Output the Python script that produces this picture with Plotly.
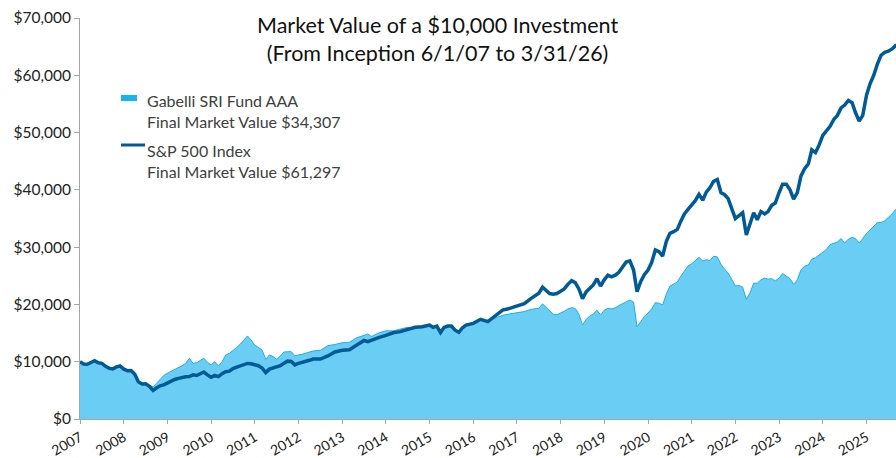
import plotly.graph_objects as go

# ---- data ----
dates = [
    "2007-06", "2007-07", "2007-08", "2007-09", "2007-10", "2007-11", "2007-12",
    "2008-01", "2008-02", "2008-03", "2008-04", "2008-05", "2008-06", "2008-07", "2008-08", "2008-09", "2008-10", "2008-11", "2008-12",
    "2009-01", "2009-02", "2009-03", "2009-04", "2009-05", "2009-06", "2009-07", "2009-08", "2009-09", "2009-10", "2009-11", "2009-12",
    "2010-01", "2010-02", "2010-03", "2010-04", "2010-05", "2010-06", "2010-07", "2010-08", "2010-09", "2010-10", "2010-11", "2010-12",
    "2011-01", "2011-02", "2011-03", "2011-04", "2011-05", "2011-06", "2011-07", "2011-08", "2011-09", "2011-10", "2011-11", "2011-12",
    "2012-01", "2012-02", "2012-03", "2012-04", "2012-05", "2012-06", "2012-07", "2012-08", "2012-09", "2012-10", "2012-12",
    "2013-02", "2013-04", "2013-06", "2013-08", "2013-10", "2013-12",
    "2014-01", "2014-02", "2014-04", "2014-06", "2014-08", "2014-10", "2014-12",
    "2015-02", "2015-04", "2015-06", "2015-07", "2015-08", "2015-09", "2015-10", "2015-11", "2015-12",
    "2016-01", "2016-02", "2016-03", "2016-04", "2016-06", "2016-08", "2016-10", "2016-12",
    "2017-02", "2017-04", "2017-06", "2017-08", "2017-10", "2017-12",
    "2018-01", "2018-03", "2018-04", "2018-05", "2018-06", "2018-07", "2018-08", "2018-09", "2018-10", "2018-11", "2018-12",
    "2019-01", "2019-02", "2019-03", "2019-04", "2019-05", "2019-06", "2019-07", "2019-08", "2019-09", "2019-10", "2019-11", "2019-12",
    "2020-01", "2020-02", "2020-03", "2020-04", "2020-05", "2020-06", "2020-07", "2020-08", "2020-09", "2020-10", "2020-11", "2020-12",
    "2021-01", "2021-02", "2021-03", "2021-04", "2021-05", "2021-06", "2021-07", "2021-08", "2021-09", "2021-10", "2021-11", "2021-12",
    "2022-01", "2022-02", "2022-03", "2022-04", "2022-05", "2022-06", "2022-07", "2022-08", "2022-09", "2022-10", "2022-11", "2022-12",
    "2023-01", "2023-02", "2023-03", "2023-04", "2023-05", "2023-06", "2023-07", "2023-08", "2023-09", "2023-10", "2023-11", "2023-12",
    "2024-01", "2024-02", "2024-03", "2024-04", "2024-05", "2024-06", "2024-07", "2024-08", "2024-09", "2024-10", "2024-11", "2024-12",
    "2025-01", "2025-02", "2025-03", "2025-04", "2025-05", "2025-06", "2025-07", "2025-08", "2025-09", "2025-10", "2025-11", "2025-12",
    "2026-01", "2026-02", "2026-03",
]

fund_values = [
    10000, 9600, 9550, 9900, 10100, 9700, 9650,
    9100, 8800, 8650, 9050, 9150, 8600, 8350, 8400, 7700, 6400, 6100, 6150,
    5950, 5650, 6200, 6900, 7600, 8000, 8300, 8670, 8900, 9300, 9720, 10600,
    9720, 9830, 10200, 10600, 9900, 9430, 10000, 9250, 10000, 11170, 11460, 11900,
    12500, 13100, 13700, 14500, 13800, 12900, 12500, 12040, 10420, 11170, 10900, 10420,
    11000, 11700, 11750, 11750, 11050, 11150, 11300, 11500, 11640, 11870, 12000,
    12800, 13000, 13320, 13400, 14190, 14600,
    14840, 14400, 15000, 15400, 15380, 15700, 16000,
    15800, 16300, 16500, 16100, 16300, 15200, 16050, 16300, 16300,
    15600, 15250, 16000, 16500, 16800, 17300, 16990, 17600,
    18100, 18350, 18550, 18750, 19150, 19320,
    20100, 18900, 18300, 18200, 18450, 18800, 19200, 19430, 19300, 18300, 16410,
    17400, 18000, 18300, 19000, 18150, 19000, 19320, 19200, 19400, 19800, 20100, 20400,
    20770, 20400, 16110, 17000, 17900, 18500, 19200, 20300, 20200, 19900, 21800, 23200,
    23600, 23900, 24900, 25800, 26700, 27100, 27600, 28200, 27600, 27800, 27700, 28400,
    28300, 27000, 26200, 25500, 24400, 23200, 23300, 23000, 20900, 22000, 23700, 23700,
    24300, 24600, 24400, 24500, 24100, 24600, 25400, 25000, 24500, 23500, 24300, 26000,
    26700, 26900, 27900, 28150, 28600, 29150, 29600, 30450, 30700, 30900, 31500, 30700,
    31400, 31720, 31500, 30700, 31500, 32400, 33000, 33700, 34270, 34300, 34600, 35200,
    35800, 36600, 37000,
]

spx_values = [
    10000, 9600, 9550, 9950, 10180, 9800, 9720,
    9200, 8850, 8730, 9100, 9250, 8700, 8430, 8450, 7800, 6500, 6100, 6150,
    5700, 5000, 5400, 5800, 5950, 6300, 6690, 6900, 7100, 7280, 7390, 7400,
    7700, 7600, 7900, 8200, 7700, 7280, 7600, 7390, 7900, 8260, 8350, 8800,
    9050, 9300, 9450, 9700, 9650, 9450, 9300, 8900, 8100, 8700, 8850, 9000,
    9300, 9750, 10100, 10050, 9450, 9700, 9850, 10000, 10250, 10470, 10470,
    11000, 11700, 12000, 12100, 12900, 13700,
    13500, 13800, 14200, 14600, 15050, 15250, 15700,
    16000, 16100, 16400, 16000, 16200, 15100, 16000, 16230, 16230,
    15500, 15130, 15900, 16400, 16700, 17400, 17000, 17980,
    19000, 19300, 19700, 20150, 21100, 21950,
    23000, 21900, 21800, 21900, 22300, 22700, 23500, 24140, 23800, 22700, 21000,
    22200, 22810, 23400, 24500, 23220, 24300, 25100, 24800, 25100, 25600, 26500, 27400,
    27600, 26000, 22220, 24000, 25200, 26000, 27300, 29500, 29200, 28450, 31000, 32400,
    32700, 33100, 34500, 35800, 36600, 37300, 38100, 39200, 38200, 39600, 40400, 41500,
    41800, 39500, 39200, 38500, 36700, 35000, 35500, 36000, 32120, 34000, 36000, 34800,
    36200, 35800, 36200, 37300, 37700, 39500, 41000, 41000, 40000, 38400, 39500, 42400,
    43700, 44500, 47000, 46500, 47800, 49500, 50400, 51100, 52300, 53000, 54300, 54800,
    55600, 55200, 53500, 52000, 53000, 56500, 58500, 60000, 62000, 63500, 64000, 64200,
    64600, 65200, 65300,
]

tick_dates = [f"{y}-06-01" for y in range(2007, 2026)]
tick_labels = [str(y) for y in range(2007, 2026)]

fund_name = "Gabelli SRI Fund AAA"
fund_final = "Final Market Value $34,307"
spx_name = "S&P 500 Index"
spx_final = "Final Market Value $61,297"

FONT = "Lato, 'Open Sans', sans-serif"
FUND_FILL = "rgb(106,206,244)"
FUND_LINE = "rgb(30,174,235)"
FUND_LEGEND = "rgb(20,180,238)"
SPX_LINE = "rgb(0,90,150)"

fig = go.Figure()
fig.add_trace(go.Scatter(
    x=dates, y=fund_values, name=fund_name, mode="lines",
    fill="tozeroy", fillcolor=FUND_FILL,
    line=dict(color=FUND_LINE, width=1),
))
fig.add_trace(go.Scatter(
    x=dates, y=spx_values, name=spx_name, mode="lines",
    line=dict(color=SPX_LINE, width=3.5),
))

# plot area in pixels: left 80, right 896, top 18, bottom 419
L, R, T, B = 80, 896, 18, 419
def px(x):
    return (x - L) / (R - L)
def py(y):
    return (B - y) / (B - T)

annotations = [
    dict(text="Market Value of a $10,000 Investment<br>(From Inception 6/1/07 to 3/31/26)",
         x=px(437), y=py(10), xref="paper", yref="paper", xanchor="center", yanchor="top",
         showarrow=False, font=dict(family=FONT, size=21.5, color="#111111"), align="center"),
]
legend_lines = [(fund_name, 100), (fund_final, 122), (spx_name, 150), (spx_final, 172)]
for txt, yy in legend_lines:
    annotations.append(dict(text=txt, x=px(145), y=py(yy), xref="paper", yref="paper",
                            xanchor="left", yanchor="middle", showarrow=False,
                            font=dict(family=FONT, size=16, color="#404040")))

shapes = [
    dict(type="rect", xref="paper", yref="paper", x0=px(121), x1=px(137), y0=py(101), y1=py(95),
         fillcolor=FUND_LEGEND, line=dict(width=0)),
    dict(type="line", xref="paper", yref="paper", x0=px(121), x1=px(145), y0=py(145), y1=py(145),
         line=dict(color=SPX_LINE, width=3)),
]

fig.update_layout(
    width=896, height=458,
    margin=dict(l=L, r=0, t=T, b=458 - B, autoexpand=False),
    paper_bgcolor="white", plot_bgcolor="white",
    showlegend=False,
    font=dict(family=FONT, size=15, color="#222222"),
    annotations=annotations,
    shapes=shapes,
)
fig.update_xaxes(
    type="date", range=["2007-06-01", "2026-02-03"], automargin=False,
    tickvals=tick_dates, ticktext=tick_labels, tickangle=-30,
    showgrid=False, zeroline=False,
    showline=True, linecolor="#A6A6A6", linewidth=1,
    ticks="outside", ticklen=4, tickcolor="#A6A6A6",
    tickfont=dict(family=FONT, size=14, color="#222222"),
)
fig.update_yaxes(
    range=[0, 70000], dtick=10000, tickprefix="$", tickformat=",", automargin=False,
    showgrid=False, zeroline=False,
    showline=True, linecolor="#A6A6A6", linewidth=1,
    ticks="outside", ticklen=5, tickcolor="#A6A6A6",
    tickfont=dict(family=FONT, size=15.5, color="#222222"),
)

fig.write_html(
    "out.html",
    config={"displayModeBar": False},
    post_script="document.body.style.margin='0';document.body.style.overflow='hidden';",
)
